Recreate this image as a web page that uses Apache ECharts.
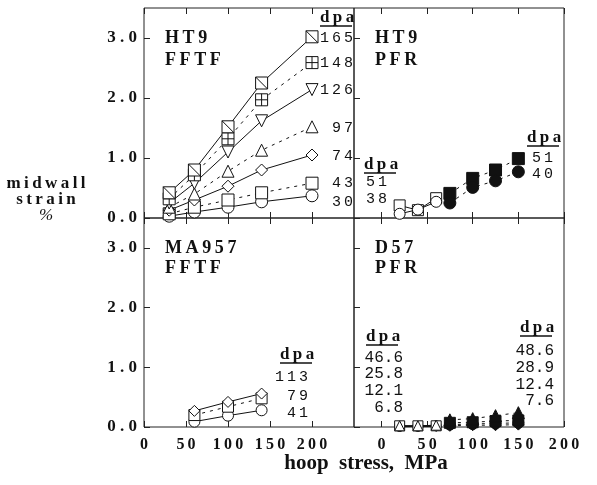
<!DOCTYPE html>
<html>
<head>
<meta charset="utf-8">
<script src="https://cdn.jsdelivr.net/npm/echarts@6/dist/echarts.min.js"></script>
<style>
html, body { margin: 0; background: #fff; }
#chart { width: 597px; height: 485px; }
</style>
</head>
<body>
<div id="chart"></div>
<script>
// HT9 FFTF (top left)
var ht9FftfStress = [30, 60, 100, 140, 200];
var ht9Fftf165 = [0.42, 0.80, 1.52, 2.25, 3.02];
var ht9Fftf148 = [0.32, 0.72, 1.32, 1.97, 2.59];
var ht9Fftf126 = [0.25, 0.58, 1.10, 1.62, 2.14];
var ht9Fftf97 = [0.18, 0.40, 0.78, 1.13, 1.52];
var ht9Fftf74 = [0.13, 0.30, 0.53, 0.80, 1.05];
var ht9Fftf43 = [0.07, 0.18, 0.30, 0.42, 0.58];
var ht9Fftf30 = [0.03, 0.10, 0.18, 0.27, 0.37];

// HT9 PFR (top right)
var ht9PfrLowStress = [20, 40, 60];
var ht9PfrLow51 = [0.21, 0.13, 0.33];
var ht9PfrLow38 = [0.07, 0.14, 0.27];
var ht9PfrHighStress = [75, 100, 125, 150];
var ht9PfrHigh51 = [0.41, 0.66, 0.80, 0.99];
var ht9PfrHigh40 = [0.25, 0.51, 0.62, 0.77];

// MA957 FFTF (bottom left)
var ma957Stress = [60, 100, 140];
var ma957_113 = [0.27, 0.42, 0.56];
var ma957_79 = [0.20, 0.34, 0.48];
var ma957_41 = [0.09, 0.19, 0.28];

// D57 PFR (bottom right)
var d57LowStress = [20, 40, 60];
var d57Low466 = [0.02, 0.02, 0.03];
var d57Low258 = [0.02, 0.02, 0.02];
var d57Low121 = [0.01, 0.01, 0.02];
var d57Low68 = [0.00, 0.01, 0.01];
var d57HighStress = [75, 100, 125, 150];
var d57High486 = [0.12, 0.14, 0.19, 0.24];
var d57High289 = [0.07, 0.08, 0.10, 0.11];
var d57High124 = [0.04, 0.05, 0.06, 0.07];
var d57High76 = [0.02, 0.03, 0.03, 0.04];

var xTicks = [0, 50, 100, 150, 200];
var yTicks = [0, 1, 2, 3];

var INK = '#111';
var SERIF = '"Liberation Serif", "Times New Roman", serif';
var MONO = '"Liberation Mono", "DejaVu Sans Mono", monospace';

var SQ_DIAG = 'path://M0,0H10V10H0Z M0,0L10,10';
var SQ_CROSS = 'path://M0,0H10V10H0Z M5,0V10 M0,5H10';
var TRI_DOWN = 'path://M0,0H10L5,9Z';

function spaced(s, sep) {
    return String(s).split('').join(sep || '\u2009');
}

function pairs(xs, ys) {
    return xs.map(function (x, i) { return [x, ys[i]]; });
}

function mkSeries(grid, xs, ys, symbol, dotted, filled, size) {
    return {
        type: 'line',
        xAxisIndex: grid * 2,
        yAxisIndex: grid,
        data: pairs(xs, ys),
        symbol: symbol,
        symbolSize: size || 11,
        showAllSymbol: true,
        animation: false,
        silent: true,
        lineStyle: { color: INK, width: 1, type: dotted ? [3, 5] : 'solid' },
        itemStyle: { color: filled ? INK : '#fff', borderColor: INK, borderWidth: 1 }
    };
}

var grids = [
    { left: 144, top: 8, width: 210, height: 210 },
    { left: 354, top: 8, width: 210, height: 210 },
    { left: 144, top: 218, width: 210, height: 209 },
    { left: 354, top: 218, width: 210, height: 209 }
];
grids.forEach(function (g) {
    g.show = true;
    g.borderColor = '#222';
    g.borderWidth = 1;
});

var xAxes = [], yAxes = [];
grids.forEach(function (g, i) {
    var isRight = (i % 2 === 1);
    var isBottom = (i >= 2);
    var range = isRight ? { min: -30, max: 200 } : { min: 0, max: 250 };
    xAxes.push({
        type: 'value', gridIndex: i, position: 'bottom',
        min: range.min, max: range.max,
        axisLine: { show: false, onZero: false },
        splitLine: { show: false },
        axisTick: { show: true, inside: true, length: 6, customValues: xTicks, lineStyle: { color: '#222' } },
        axisLabel: {
            show: isBottom, customValues: xTicks, margin: 10,
            color: INK, fontFamily: SERIF, fontWeight: 'bold', fontSize: 16,
            formatter: function (v) { return spaced(v); }
        }
    });
    xAxes.push({
        type: 'value', gridIndex: i, position: 'top',
        min: range.min, max: range.max,
        axisLine: { show: false, onZero: false },
        splitLine: { show: false },
        axisTick: { show: true, inside: true, length: 6, customValues: xTicks, lineStyle: { color: '#222' } },
        axisLabel: { show: false }
    });
    yAxes.push({
        type: 'value', gridIndex: i, position: 'left',
        min: 0, max: 3.5,
        axisLine: { show: false, onZero: false },
        splitLine: { show: false },
        axisTick: { show: true, inside: true, length: 6, customValues: yTicks, lineStyle: { color: '#222' } },
        axisLabel: {
            show: !isRight, customValues: yTicks, margin: 7,
            color: INK, fontFamily: SERIF, fontWeight: 'bold', fontSize: 17,
            formatter: function (v) { return spaced(v.toFixed(1), ' '); }
        }
    });
});

var series = [
    mkSeries(0, ht9FftfStress, ht9Fftf30, 'circle', false, false, 12),
    mkSeries(0, ht9FftfStress, ht9Fftf43, 'rect', true, false, 12),
    mkSeries(0, ht9FftfStress, ht9Fftf74, 'diamond', false, false, 12),
    mkSeries(0, ht9FftfStress, ht9Fftf97, 'triangle', true, false, 12),
    mkSeries(0, ht9FftfStress, ht9Fftf126, TRI_DOWN, false, false, 12),
    mkSeries(0, ht9FftfStress, ht9Fftf148, SQ_CROSS, true, false, 12),
    mkSeries(0, ht9FftfStress, ht9Fftf165, SQ_DIAG, false, false, 12),

    mkSeries(1, ht9PfrLowStress, ht9PfrLow51, 'rect', false, false),
    mkSeries(1, ht9PfrLowStress, ht9PfrLow38, 'circle', false, false),
    mkSeries(1, ht9PfrHighStress, ht9PfrHigh51, 'rect', true, true, 12),
    mkSeries(1, ht9PfrHighStress, ht9PfrHigh40, 'circle', true, true, 12),

    mkSeries(2, ma957Stress, ma957_41, 'circle', false, false),
    mkSeries(2, ma957Stress, ma957_79, 'rect', true, false),
    mkSeries(2, ma957Stress, ma957_113, 'diamond', false, false),

    mkSeries(3, d57LowStress, d57Low68, 'diamond', false, false, 10),
    mkSeries(3, d57LowStress, d57Low121, 'circle', false, false, 10),
    mkSeries(3, d57LowStress, d57Low258, 'rect', false, false, 10),
    mkSeries(3, d57LowStress, d57Low466, 'triangle', false, false, 10),
    mkSeries(3, d57HighStress, d57High76, 'diamond', true, true),
    mkSeries(3, d57HighStress, d57High124, 'circle', true, true),
    mkSeries(3, d57HighStress, d57High289, 'rect', true, true),
    mkSeries(3, d57HighStress, d57High486, 'triangle', true, true, 12)
];

// annotations: panel titles, dpa lists
var graphics = [];
function txt(text, x, y, font, align) {
    graphics.push({
        type: 'text', silent: true,
        style: {
            text: text, x: x, y: y, font: font, fill: INK,
            align: align || 'left', verticalAlign: 'middle',
            textAlign: align || 'left', textVerticalAlign: 'middle'
        }
    });
}
function dpaHead(x, y) {
    txt(spaced('dpa'), x, y, 'bold 17px ' + SERIF, 'left');
    graphics.push({
        type: 'line', silent: true,
        shape: { x1: x, y1: y + 8, x2: x + 32, y2: y + 8 },
        style: { stroke: INK, lineWidth: 1.5 }
    });
}
var TITLE = 'bold 18px ' + SERIF;
var NUM = '15px ' + MONO;

txt(spaced('HT9'), 165, 38, TITLE);
txt(spaced('FFTF'), 165, 60, TITLE);
txt(spaced('HT9'), 375, 38, TITLE);
txt(spaced('PFR'), 375, 60, TITLE);
txt(spaced('MA957'), 165, 248, TITLE);
txt(spaced('FFTF'), 165, 268, TITLE);
txt(spaced('D57'), 375, 248, TITLE);
txt(spaced('PFR'), 375, 268, TITLE);

dpaHead(320, 18);
[['165', 38], ['148', 63], ['126', 90], ['97', 128], ['74', 156], ['43', 183], ['30', 202]].forEach(function (d) {
    txt(spaced(d[0]), 353, d[1], NUM, 'right');
});

dpaHead(364, 165);
txt(spaced('51'), 366, 182, NUM);
txt(spaced('38'), 366, 199, NUM);
dpaHead(527, 138);
txt(spaced('51'), 532, 158, NUM);
txt(spaced('40'), 532, 174, NUM);

dpaHead(280, 355);
txt(spaced('113'), 308, 377, NUM, 'right');
txt(spaced('79'), 308, 396, NUM, 'right');
txt(spaced('41'), 308, 413, NUM, 'right');

dpaHead(366, 337);
[['46.6', 358], ['25.8', 374], ['12.1', 391], ['6.8', 408]].forEach(function (d) {
    txt(d[0], 403, d[1], '16px ' + MONO, 'right');
});
dpaHead(520, 328);
[['48.6', 351], ['28.9', 368], ['12.4', 385], ['7.6', 401]].forEach(function (d) {
    txt(d[0], 554, d[1], '16px ' + MONO, 'right');
});

// axis titles
var YT = 'bold 17px ' + SERIF;
txt(spaced('midwall'), 46, 184, YT, 'center');
txt(spaced('strain'), 46, 200, YT, 'center');
txt('%', 46, 216, 'italic 17px ' + SERIF, 'center');
txt('hoop  stress,  MPa', 366, 464, 'bold 21px ' + SERIF, 'center');

var chart = echarts.init(document.getElementById('chart'), null, { renderer: 'canvas' });
chart.setOption({
    animation: false,
    backgroundColor: '#fff',
    grid: grids,
    xAxis: xAxes,
    yAxis: yAxes,
    series: series,
    graphic: { elements: graphics }
});
</script>
</body>
</html>
